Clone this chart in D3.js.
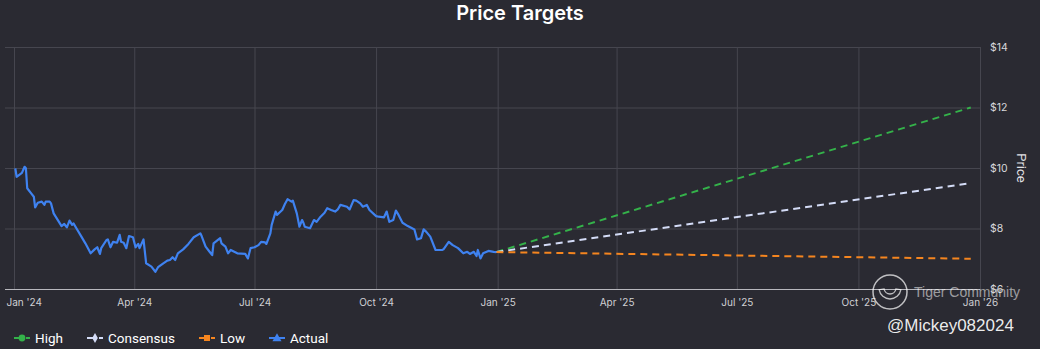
<!DOCTYPE html>
<html><head><meta charset="utf-8">
<script src="https://cdn.jsdelivr.net/npm/d3@7"></script>
<style>
html,body{margin:0;padding:0;background:#2a2a32;}
svg{display:block;}
</style></head>
<body>
<svg id="chart" width="1040" height="349"></svg>
<script>
// ---- data ----
const actualDates = ["2024-01-02","2024-01-03","2024-01-07","2024-01-09","2024-01-10","2024-01-11","2024-01-14","2024-01-16","2024-01-17","2024-01-19","2024-01-22","2024-01-24","2024-01-25","2024-01-28","2024-01-29","2024-01-31","2024-02-04","2024-02-06","2024-02-08","2024-02-10","2024-02-12","2024-02-14","2024-02-15","2024-02-18","2024-02-21","2024-02-24","2024-02-28","2024-03-02","2024-03-04","2024-03-06","2024-03-07","2024-03-11","2024-03-12","2024-03-14","2024-03-16","2024-03-19","2024-03-21","2024-03-22","2024-03-24","2024-03-26","2024-03-28","2024-03-31","2024-04-02","2024-04-04","2024-04-05","2024-04-08","2024-04-10","2024-04-14","2024-04-17","2024-04-19","2024-04-23","2024-04-26","2024-04-28","2024-04-30","2024-05-02","2024-05-04","2024-05-08","2024-05-12","2024-05-16","2024-05-21","2024-05-22","2024-05-25","2024-05-28","2024-05-30","2024-05-31","2024-06-05","2024-06-06","2024-06-09","2024-06-11","2024-06-13","2024-06-18","2024-06-24","2024-06-26","2024-06-28","2024-07-01","2024-07-04","2024-07-06","2024-07-09","2024-07-10","2024-07-13","2024-07-14","2024-07-17","2024-07-18","2024-07-22","2024-07-24","2024-07-26","2024-07-29","2024-07-30","2024-08-02","2024-08-04","2024-08-06","2024-08-07","2024-08-08","2024-08-12","2024-08-15","2024-08-17","2024-08-20","2024-08-23","2024-08-25","2024-08-28","2024-08-31","2024-09-02","2024-09-04","2024-09-09","2024-09-11","2024-09-14","2024-09-16","2024-09-19","2024-09-21","2024-09-24","2024-09-26","2024-10-01","2024-10-03","2024-10-07","2024-10-09","2024-10-11","2024-10-14","2024-10-16","2024-10-18","2024-10-21","2024-10-25","2024-10-30","2024-11-01","2024-11-04","2024-11-06","2024-11-08","2024-11-11","2024-11-15","2024-11-20","2024-11-21","2024-11-25","2024-11-28","2024-12-02","2024-12-06","2024-12-09","2024-12-11","2024-12-14","2024-12-16","2024-12-17","2024-12-19","2024-12-21","2024-12-25","2024-12-29","2024-12-31"];
const actualPrices = [9.99,9.71,9.84,10.04,9.99,9.33,9.16,9.05,8.70,8.85,8.89,8.78,8.89,8.89,8.83,8.50,8.22,8.08,8.15,8.04,8.26,8.12,8.17,7.95,7.73,7.51,7.18,7.31,7.38,7.16,7.35,7.62,7.64,7.38,7.56,7.53,7.79,7.56,7.53,7.35,7.75,7.71,7.38,7.49,7.35,7.64,6.85,6.74,6.57,6.72,6.85,6.94,6.96,7.05,6.96,7.18,7.31,7.49,7.71,7.84,7.75,7.40,7.23,7.12,7.51,7.68,7.51,7.40,7.18,7.29,7.18,7.16,7.01,7.35,7.38,7.45,7.56,7.54,7.49,7.84,8.12,8.56,8.45,8.61,8.81,8.97,8.89,8.92,8.50,8.06,8.28,8.19,8.06,8.01,8.28,8.22,8.39,8.52,8.67,8.61,8.56,8.63,8.78,8.72,8.63,8.94,8.92,8.83,8.72,8.78,8.61,8.41,8.39,8.37,8.56,8.22,8.28,8.59,8.45,8.19,8.08,7.97,7.64,7.68,7.97,7.89,7.73,7.29,7.29,7.31,7.56,7.45,7.35,7.18,7.23,7.16,7.23,7.09,7.29,7.01,7.18,7.26,7.23,7.22];
const forecastDates = ["2024-12-31","2025-12-25"];
const highTargets = [7.22, 12.0];
const consensusTargets = [7.22, 9.5];
const lowTargets = [7.22, 7.0];
const yTicks = [6, 8, 10, 12, 14];
const xTickDates = ["2024-01-01","2024-04-01","2024-07-01","2024-10-01","2025-01-01","2025-04-01","2025-07-01","2025-10-01","2026-01-01"];
const xTickLabels = ["Jan '24","Apr '24","Jul '24","Oct '24","Jan '25","Apr '25","Jul '25","Oct '25","Jan '26"];
const seriesNames = ["High","Consensus","Low","Actual"];
const seriesColors = ["#34b24a","#d4dcf7","#f5851f","#3f82f0"];

// ---- layout ----
const parse = d3.timeParse("%Y-%m-%d");
const svg = d3.select("#chart");
const W = 1040, H = 349;
const plotLeft = 5, plotRight = 980, plotTop = 47, plotBottom = 289;
svg.append("rect").attr("width", W).attr("height", H).attr("fill", "#2a2a32");

const x = d3.scaleTime().domain([parse("2024-01-01"), parse("2026-01-01")]).range([14, plotRight]);
const y = d3.scaleLinear().domain([6, 14]).range([plotBottom, plotTop]);

// title
svg.append("text").attr("x", 520).attr("y", 20).attr("text-anchor", "middle")
  .attr("font-family", "Inter, 'Open Sans', sans-serif").attr("font-weight", 600)
  .attr("font-size", 20).attr("fill", "#ffffff").text("Price Targets");

// horizontal grid
const gridY = svg.append("g").attr("transform", `translate(${plotRight},0)`)
  .call(d3.axisLeft(y).tickValues(yTicks.filter(v => v > 6)).tickSize(plotRight - plotLeft).tickFormat(""));
gridY.select(".domain").remove();
gridY.selectAll(".tick line").attr("stroke", "#46464f").attr("stroke-width", 1);

// vertical grid
const gridX = svg.append("g").attr("transform", `translate(0,${plotBottom})`)
  .call(d3.axisTop(x).tickValues(xTickDates.map(parse)).tickSize(plotBottom - plotTop).tickFormat(""));
gridX.select(".domain").remove();
gridX.selectAll(".tick line").attr("stroke", "#46464f").attr("stroke-width", 1);

// bottom axis line
svg.append("line").attr("x1", plotLeft).attr("x2", plotRight).attr("y1", plotBottom + 0.5).attr("y2", plotBottom + 0.5)
  .attr("stroke", "#b8b8be").attr("stroke-width", 1.2);

// x tick labels
const xAxis = svg.append("g").attr("transform", `translate(0,${plotBottom})`)
  .call(d3.axisBottom(x).tickValues(xTickDates.map(parse)).tickSize(0).tickPadding(10)
    .tickFormat((d, i) => xTickLabels[i]));
xAxis.select(".domain").remove();
xAxis.selectAll("text").attr("font-family", "Inter, 'Open Sans', sans-serif").attr("font-size", 10)
  .attr("fill", "#d0d0d4");
xAxis.selectAll(".tick").filter((d, i) => i === 0).select("text").attr("text-anchor", "start").attr("dx", -8);

// y tick labels (right)
const yAxis = svg.append("g").attr("transform", `translate(${plotRight},0)`)
  .call(d3.axisRight(y).tickValues(yTicks).tickSize(0).tickPadding(10).tickFormat(d => "$" + d));
yAxis.select(".domain").remove();
yAxis.selectAll("text").attr("font-family", "Inter, 'Open Sans', sans-serif").attr("font-size", 10.5)
  .attr("fill", "#d8d8dc");

// axis title
svg.append("text").attr("transform", `translate(1017,${(plotTop + plotBottom) / 2 + 0}) rotate(90)`)
  .attr("text-anchor", "middle").attr("font-family", "Roboto, 'Liberation Sans', sans-serif")
  .attr("font-size", 13).attr("fill", "#e0e0e4").text("Price");

// lines
const line = d3.line().x(d => x(d[0])).y(d => y(d[1]));
const fc = [highTargets, consensusTargets, lowTargets];
fc.forEach((vals, k) => {
  const pts = forecastDates.map((d, i) => [parse(d), vals[i]]);
  svg.append("path").attr("d", line(pts)).attr("fill", "none")
    .attr("stroke", seriesColors[k]).attr("stroke-width", 2).attr("stroke-dasharray", "7,5");
});
const actPts = actualDates.map((d, i) => [parse(d), actualPrices[i]]);
svg.append("path").attr("d", line(actPts)).attr("fill", "none")
  .attr("stroke", seriesColors[3]).attr("stroke-width", 2.2).attr("stroke-linejoin", "round");

// legend
const legendX = [14, 87, 199, 269];
const legend = svg.append("g").attr("transform", "translate(0,338)");
seriesNames.forEach((name, k) => {
  const g = legend.append("g").attr("transform", `translate(${legendX[k]},0)`);
  g.append("line").attr("x1", 0).attr("x2", 16).attr("y1", 0).attr("y2", 0)
    .attr("stroke", seriesColors[k]).attr("stroke-width", 2)
    .attr("stroke-dasharray", k < 3 ? "10,2" : null);
  const symType = [d3.symbolCircle, d3.symbolDiamond, d3.symbolSquare, d3.symbolTriangle][k];
  g.append("path").attr("d", d3.symbol().type(symType).size(k === 1 ? 28 : 36)())
    .attr("transform", `translate(8,${k === 3 ? 0.5 : 0})`).attr("fill", seriesColors[k]);
  g.append("text").attr("x", 21).attr("y", 0).attr("dy", "0.35em")
    .attr("font-family", "Roboto, 'Liberation Sans', sans-serif").attr("font-size", 13.5)
    .attr("fill", "#ffffff").text(name);
});

// watermark
const wm = svg.append("g");
wm.append("circle").attr("cx", 890).attr("cy", 292).attr("r", 17).attr("fill", "none")
  .attr("stroke", "rgba(255,255,255,0.7)").attr("stroke-width", 1.5);
wm.append("path").attr("d", d3.arc().innerRadius(6).outerRadius(11).startAngle(Math.PI * 0.55).endAngle(Math.PI * 1.45)())
  .attr("transform", "translate(890,288)").attr("fill", "none").attr("stroke", "rgba(255,255,255,0.7)").attr("stroke-width", 1.3);
wm.append("text").attr("x", 914).attr("y", 297).attr("font-family", "'Liberation Sans', Arial, sans-serif")
  .attr("font-size", 14).attr("fill", "rgba(255,255,255,0.55)").text("Tiger Community");
wm.append("text").attr("x", 887).attr("y", 331).attr("font-family", "'Liberation Sans', Arial, sans-serif")
  .attr("font-size", 17).attr("fill", "rgba(255,255,255,0.92)").text("@Mickey082024");
</script>
</body></html>
